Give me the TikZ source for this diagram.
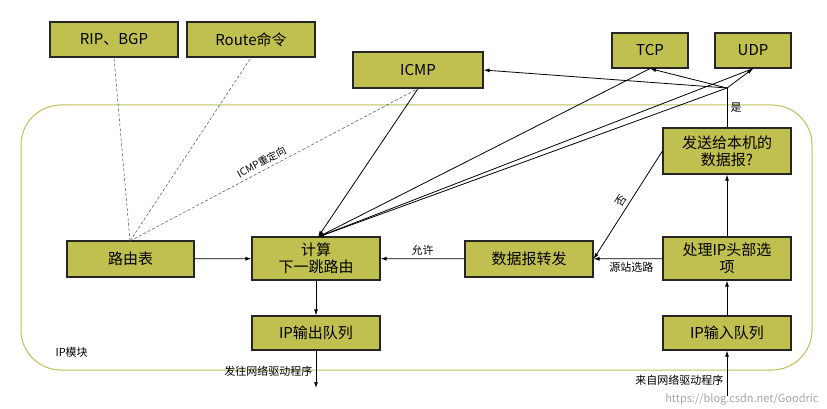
\documentclass[tikz,border=0pt]{standalone}
\usepackage{fontspec}
\setmainfont{Noto Sans CJK SC}
\usetikzlibrary{arrows.meta}
\definecolor{boxfill}{RGB}{192,192,80}
\definecolor{frame}{RGB}{190,190,90}
\begin{document}
\begin{tikzpicture}[x=1pt,y=-1pt,
  box/.style={draw=black!85,line width=1.2pt,fill=boxfill,font=\fontsize{15}{17}\selectfont,align=center,inner sep=0pt},
  arr/.style={-{Latex[length=6pt,width=4pt]},line width=0.8pt},
  dline/.style={densely dashed,line width=0.5pt,black!70},
  lab/.style={font=\fontsize{11}{13}\selectfont}]
\useasboundingbox (0,0) rectangle (827,409);
\draw[frame,line width=1pt,rounded corners=40pt] (21,105) rectangle (812,370);
\node[lab,anchor=west] (mod) at (52,352) {IP模块};
\node[box,minimum width=128pt,minimum height=35pt] (rip) at (114,39.5) {RIP、BGP};
\node[box,minimum width=128pt,minimum height=35pt] (route) at (251,39.5) {Route命令};
\node[box,minimum width=130pt,minimum height=36pt] (icmp) at (418,70) {ICMP};
\node[box,minimum width=76pt,minimum height=35pt] (tcp) at (650,50.5) {TCP};
\node[box,minimum width=76pt,minimum height=35pt] (udp) at (753,50.5) {UDP};
\node[box,minimum width=127pt,minimum height=36pt] (rt) at (130.5,259) {路由表};
\node[box,minimum width=128pt,minimum height=43pt] (calc) at (316,258.5) {计算\\下一跳路由};
\node[box,minimum width=128pt,minimum height=36pt] (fwd) at (529,259) {数据报转发};
\node[box,minimum width=128pt,minimum height=43pt] (proc) at (727,258.5) {处理IP头部选\\项};
\node[box,minimum width=128pt,minimum height=46pt] (local) at (727,151) {发送给本机的\\数据报?};
\node[box,minimum width=128pt,minimum height=34pt] (out) at (316,333) {IP输出队列};
\node[box,minimum width=128pt,minimum height=34pt] (in) at (727,333) {IP输入队列};
\coordinate (j) at (727,88);
\coordinate (rtTop) at (130,241);
\coordinate (calcTop) at (318,237);
\coordinate (outEnd) at (316,388);
\coordinate (inStart) at (727,396);
% dashed
\draw[dline] (rtTop) -- (rip.south);
\draw[dline] (rtTop) -- (route.south);
\draw[dline] (rtTop) -- (icmp.south) node[pos=0.47,sloped,above,black,font=\fontsize{10}{12}\selectfont] {ICMP重定向};
% arrows to calc
\draw[arr] (icmp.south) -- (calcTop);
\draw[arr] (tcp.south) -- (calcTop);
\draw[arr] (udp.south) -- (calcTop);
\draw[arr] (j) -- (calcTop);
\draw[arr] (rt) -- (calc);
\draw[arr] (fwd) -- node[lab,above] {允许} (calc);
\draw[arr] (proc) -- node[lab,below,pos=0.45] {源站选路} (fwd);
\draw[arr] (local.west) -- node[lab,sloped,above,pos=0.5] {否} (fwd.east);
\draw[arr] (proc) -- (local);
\draw[arr] (in) -- (proc);
\draw[arr] (calc) -- (out);
\draw[line width=0.8pt] (local.north) -- node[lab,right] {是} (j);
\draw[arr] (j) -- (icmp.east);
\draw[arr] (j) -- (tcp.south);
\draw[arr] (j) -- (udp.south);
\draw[arr] (out) -- (outEnd) node[lab,pos=0.55,left] {发往网络驱动程序};
\draw[arr] (inStart) -- (in) node[lab,pos=0.35,left] {来自网络驱动程序};
\node[lab,black!35,anchor=east] (wm) at (822,399) {https://blog.csdn.net/Goodric};
\end{tikzpicture}
\end{document}
